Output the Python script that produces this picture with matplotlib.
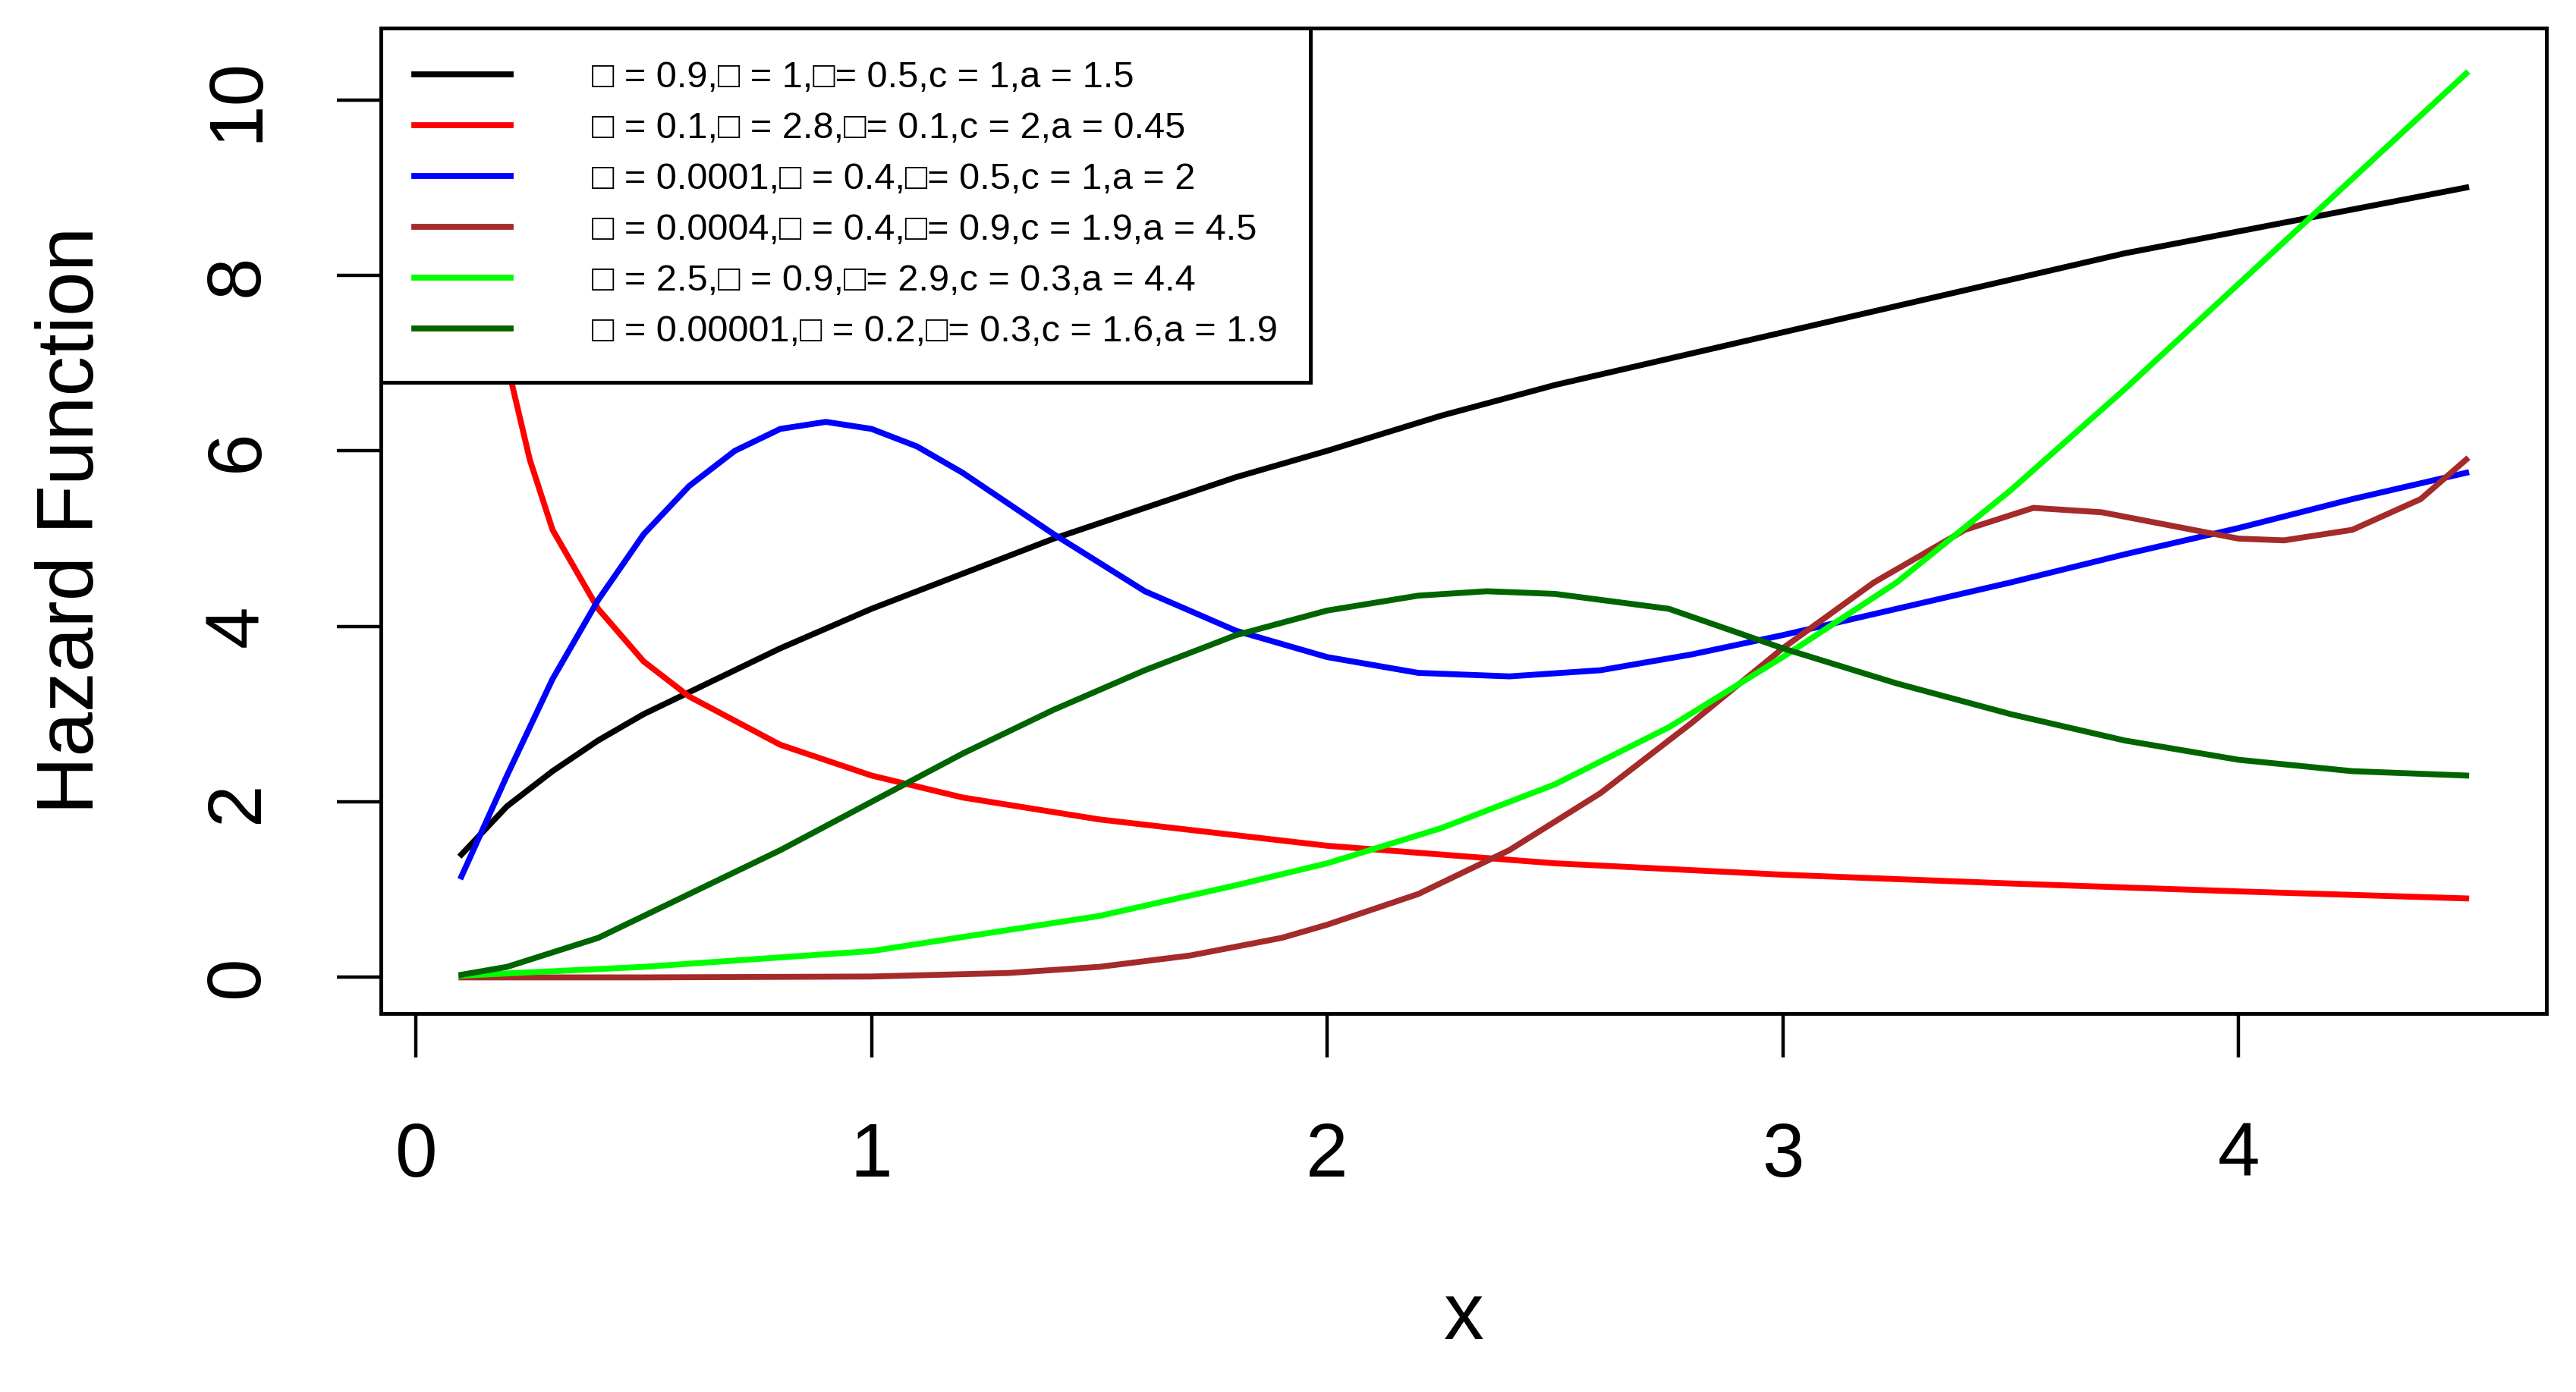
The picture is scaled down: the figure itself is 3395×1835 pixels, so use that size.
import matplotlib
matplotlib.use("Agg")
import matplotlib.pyplot as plt

plt.rcParams['font.family'] = ['Liberation Sans', 'DejaVu Sans']

x_black = [0.1,0.2,0.3,0.4,0.5,0.6,0.8,1.0,1.2,1.4,1.6,1.8,2.0,2.25,2.5,2.75,3.0,3.25,3.5,3.75,4.0,4.25,4.5]
y_black = [1.4,1.95,2.35,2.7,3.0,3.25,3.75,4.2,4.6,5.0,5.35,5.7,6.0,6.4,6.75,7.05,7.35,7.65,7.95,8.25,8.5,8.75,9.0]

x_red = [0.1,0.15,0.2,0.25,0.3,0.4,0.5,0.6,0.8,1.0,1.2,1.5,2.0,2.5,3.0,3.5,4.0,4.5]
y_red = [14.0,9.5,7.0,5.9,5.1,4.2,3.6,3.2,2.65,2.3,2.05,1.8,1.5,1.3,1.17,1.07,0.98,0.9]

x_blue = [0.1,0.2,0.3,0.4,0.5,0.6,0.7,0.8,0.9,1.0,1.1,1.2,1.4,1.6,1.8,2.0,2.2,2.4,2.6,2.8,3.0,3.25,3.5,3.75,4.0,4.25,4.5]
y_blue = [1.15,2.3,3.4,4.3,5.05,5.6,6.0,6.25,6.33,6.25,6.05,5.75,5.05,4.4,3.95,3.65,3.47,3.43,3.5,3.68,3.9,4.2,4.5,4.82,5.12,5.45,5.75]

x_brown = [0.1,0.5,1.0,1.3,1.5,1.7,1.9,2.0,2.2,2.4,2.6,2.8,3.0,3.2,3.4,3.55,3.7,3.85,4.0,4.1,4.25,4.4,4.5]
y_brown = [0.0,0.0,0.01,0.05,0.12,0.25,0.45,0.6,0.95,1.45,2.1,2.9,3.75,4.5,5.1,5.35,5.3,5.15,5.0,4.98,5.1,5.45,5.9]

x_lime = [0.1,0.5,1.0,1.5,1.8,2.0,2.25,2.5,2.75,3.0,3.25,3.5,3.75,4.0,4.25,4.5]
y_lime = [0.02,0.12,0.3,0.7,1.05,1.3,1.7,2.2,2.85,3.65,4.5,5.55,6.7,7.9,9.1,10.3]

x_dgreen = [0.1,0.2,0.4,0.6,0.8,1.0,1.2,1.4,1.6,1.8,2.0,2.2,2.35,2.5,2.75,3.0,3.25,3.5,3.75,4.0,4.25,4.5]
y_dgreen = [0.03,0.12,0.45,0.95,1.45,2.0,2.55,3.05,3.5,3.9,4.18,4.35,4.4,4.37,4.2,3.75,3.35,3.0,2.7,2.48,2.35,2.3]

labels = ["□ = 0.9,□ = 1,□= 0.5,c = 1,a = 1.5",
          "□ = 0.1,□ = 2.8,□= 0.1,c = 2,a = 0.45",
          "□ = 0.0001,□ = 0.4,□= 0.5,c = 1,a = 2",
          "□ = 0.0004,□ = 0.4,□= 0.9,c = 1.9,a = 4.5",
          "□ = 2.5,□ = 0.9,□= 2.9,c = 0.3,a = 4.4",
          "□ = 0.00001,□ = 0.2,□= 0.3,c = 1.6,a = 1.9"]
colors = ["black", "red", "blue", "brown", "#00FF00", "darkgreen"]
xticks = [0, 1, 2, 3, 4]
yticks = [0, 2, 4, 6, 8, 10]

fig = plt.figure(figsize=(16.975, 9.175), dpi=200)
ax = fig.add_axes([0.148, 0.272, 0.8405, 0.708])
series = [(x_black, y_black), (x_red, y_red), (x_blue, y_blue),
          (x_brown, y_brown), (x_lime, y_lime), (x_dgreen, y_dgreen)]
for (xs, ys), c, lab in zip(series, colors, labels):
    ax.plot(xs, ys, color=c, lw=2.8, label=lab, solid_joinstyle='round')
ax.set_xlim(-0.076, 4.676)
ax.set_ylim(-0.41, 10.82)
for s in ax.spines.values():
    s.set_linewidth(1.8)
ax.set_xticks(xticks)
ax.set_yticks(yticks)
ax.tick_params(length=21, width=1.6, labelsize=36, pad=30)
plt.setp(ax.get_yticklabels(), rotation=90, va='center')
ax.set_xlabel("x", fontsize=38, labelpad=42)
ax.set_ylabel("Hazard Function", fontsize=38, labelpad=44)
leg = ax.legend(loc='upper left', fontsize=17.5, frameon=True, fancybox=False,
                edgecolor='black', borderaxespad=0, handlelength=2.6,
                handletextpad=2.2, borderpad=0.9, labelspacing=0.45,
                framealpha=1)
leg.get_frame().set_linewidth(1.8)
leg.set_zorder(10)
fig.savefig("out.png", dpi=200)
